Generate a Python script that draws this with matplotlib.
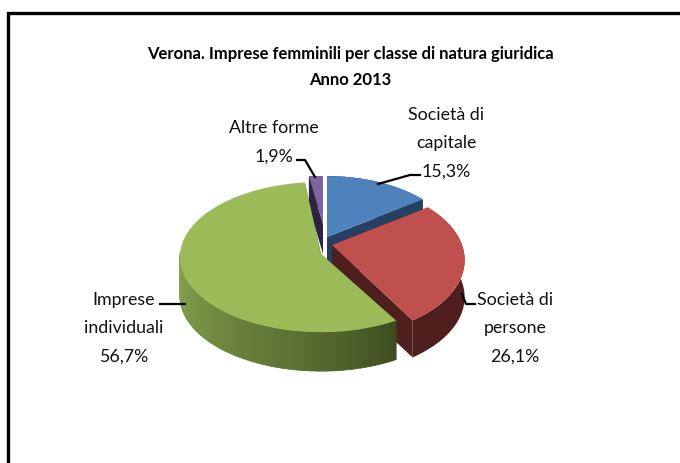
import numpy as np
import matplotlib
matplotlib.use("Agg")
import matplotlib.pyplot as plt

# =====================================================
# DATA
# =====================================================
categories = ["Società di\ncapitale", "Società di\npersone", "Imprese\nindividuali", "Altre forme"]
shares = [15.3, 26.1, 56.7, 1.9]
share_labels = ["15,3%", "26,1%", "56,7%", "1,9%"]
title_lines = ["Verona. Imprese femminili per classe di natura giuridica", "Anno 2013"]

# =====================================================
# STYLE / LAYOUT (pixels of the 680x464 picture)
# =====================================================
top_colors = ["#4f81bd", "#c0504d", "#9bbb59", "#8064a2"]
wall_colors = ["#254061", "#4f1f1e", "#3d4c1f", "#2e2343"]
apex_x = [327, 332, 321, 323]
apex_y = [238, 246, 255, 225]
radius_x = [130, 130, 141, 118]
radius_y = [73, 73, 75, 48]
perspective = [0.198, 0.198, 0.04, 0.0]
depth = [37, 37, 39, 30]
font = ["Lato", "DejaVu Sans"]

label_x = [446, 515, 124, 274]
label_top = [115, 300, 300, 128.5]
line_gap = 28.3
leaders = [
    ([378, 410, 420], [185, 176, 176]),
    ([462, 466, 475], [295, 305, 305]),
    ([185, 160], [305, 305]),
    ([315, 305, 297], [178, 161, 161]),
]


def project(angle, i):
    # angle in degrees, clockwise from the top of the pie
    a = np.radians(angle)
    px = np.sin(a)
    py = np.cos(a)
    scale = 1 + perspective[i] * py
    return apex_x[i] + radius_x[i] * px / scale, apex_y[i] - radius_y[i] * py / scale


fig = plt.figure(figsize=(6.8, 4.64), dpi=100, facecolor="white")
ax = fig.add_axes([0, 0, 1, 1])
ax.set_xlim(0, 680)
ax.set_ylim(464, 0)
ax.axis("off")

# frame of the original chart, cut by the picture on the right and bottom
ax.plot([7.5, 7.5, 690], [480, 13.5, 13.5], color="black", lw=2.4, solid_joinstyle="miter")

# =====================================================
# PIE SLICES
# =====================================================
edges = np.concatenate([[0], np.cumsum(shares)]) * 3.6
draw_order = [3, 0, 1, 2]  # back slices first

for i in draw_order:
    start, end = edges[i], edges[i + 1]
    angles = np.linspace(start, end, 200)
    rim_x, rim_y = project(angles, i)

    # cut faces seen from the front
    for a in (start, end):
        ex, ey = project(a, i)
        ax.fill([apex_x[i], ex, ex, apex_x[i]],
                [apex_y[i], ey, ey + depth[i], apex_y[i] + depth[i]],
                color=wall_colors[i], lw=0, zorder=2 + draw_order.index(i))

    # outer wall
    if i == 2:
        # green wall fades from dark on the right to light on the left
        light = np.array(matplotlib.colors.to_rgb("#88a54f"))
        dark = np.array(matplotlib.colors.to_rgb(wall_colors[2]))
        wall_angles = np.arange(start, 272, 1.5)
        for a0, a1 in zip(wall_angles[:-1], wall_angles[1:]):
            x0, y0 = project(a0, i)
            x1, y1 = project(a1 + 0.3, i)
            t = ((a0 - start) / (272 - start)) ** 0.8
            ax.fill([x0, x1, x1, x0], [y0, y1, y1 + depth[i], y0 + depth[i]],
                    color=dark + (light - dark) * t, lw=0.5,
                    zorder=2 + draw_order.index(i))
    else:
        ax.fill(np.r_[rim_x, rim_x[::-1]], np.r_[rim_y, rim_y[::-1] + depth[i]],
                color=wall_colors[i], lw=0, zorder=2 + draw_order.index(i))

    # top face
    ax.fill(np.r_[apex_x[i], rim_x], np.r_[apex_y[i], rim_y],
            color=top_colors[i], lw=0, zorder=2.5 + draw_order.index(i))

# =====================================================
# TEXT
# =====================================================
for n, line in enumerate(title_lines):
    ax.text(350, 54 + n * 26, line, ha="center", va="center",
            fontsize=12, fontweight="bold", family=font, color="black")

for i in range(len(categories)):
    lines = categories[i].split("\n") + [share_labels[i]]
    for n, line in enumerate(lines):
        ax.text(label_x[i], label_top[i] + n * line_gap, line, ha="center", va="center",
                fontsize=12.8, family=font, color="#111111")
    ax.plot(leaders[i][0], leaders[i][1], color="black", lw=1.6, zorder=20)

fig.savefig("out.png", dpi=100)
